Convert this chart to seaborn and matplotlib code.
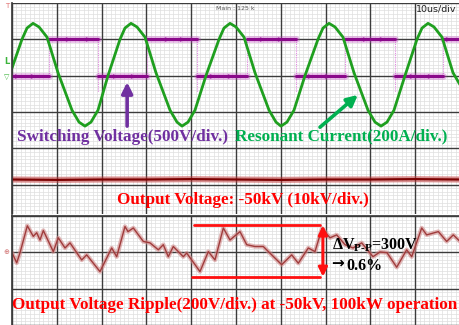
import matplotlib
matplotlib.use("Agg")
import matplotlib.pyplot as plt
import numpy as np
import pandas as pd
import seaborn as sns
from matplotlib.ticker import MultipleLocator

# time axis: microseconds (10 us/div), traces in divisions

# resonant current (200 A/div)
cur_t = [0.0, 2.23, 3.35, 4.69, 6.03, 7.81, 10.27, 13.39, 14.96, 16.29, 17.63, 19.2, 21.43,
         24.11, 25.22, 26.56, 27.9, 29.69, 32.14, 35.27, 36.83, 37.95, 39.29, 40.85, 43.3,
         46.21, 47.32, 48.66, 50.0, 51.79, 54.24, 57.37, 58.93, 60.04, 61.38, 62.95, 65.4,
         68.3, 69.42, 70.76, 72.1, 73.88, 76.34, 79.46, 81.03, 82.37, 83.71, 85.27, 87.72,
         90.4, 91.52, 92.86, 94.2, 95.98, 98.44, 100.0]
cur_v = [0.21, 1.0, 1.31, 1.44, 1.34, 1.06, 0.08, -0.95, -1.28, -1.39, -1.28, -0.95, 0.0,
         1.0, 1.31, 1.44, 1.34, 1.06, 0.08, -0.95, -1.28, -1.39, -1.28, -0.95, 0.0,
         1.0, 1.31, 1.44, 1.34, 1.06, 0.08, -0.95, -1.28, -1.39, -1.28, -0.95, 0.0,
         1.0, 1.31, 1.44, 1.34, 1.06, 0.08, -0.95, -1.28, -1.39, -1.28, -0.95, 0.0,
         1.0, 1.31, 1.44, 1.34, 1.06, 0.08, -0.25]

# switching voltage (500 V/div): edges and level of each segment
sw_edges = [0.0, 8.26, 19.2, 30.13, 41.29, 52.46, 63.39, 74.33, 85.49, 96.21, 100.0]
sw_level = [0, 1, 0, 1, 0, 1, 0, 1, 0, 1]
burst_t = [1.12, 4.69, 12.5, 16.96, 22.99, 27.0, 34.6, 37.95, 44.64, 48.66,
           55.8, 59.82, 66.52, 70.31, 78.79, 82.59, 89.29, 93.3, 97.32]
burst_v = [0, 0, 1, 1, 0, 0, 1, 1, 0, 0, 1, 1, 0, 0, 1, 1, 0, 0, 1]

# output voltage (10 kV/div)
vout_t = [0, 10, 20, 30, 40, 50, 60, 70, 80, 90, 100]
vout_v = [-2.86, -2.87, -2.86, -2.86, -2.85, -2.86, -2.87, -2.86, -2.86, -2.85, -2.86]

# output ripple (200 V/div)
rip_t = [0.0, 1.05, 1.79, 3.42, 4.75, 5.51, 6.25, 6.99, 9.22, 10.33, 11.83, 12.95, 15.56,
         16.67, 19.64, 22.25, 23.37, 25.22, 25.89, 27.08, 29.31, 30.8, 32.66, 33.77, 34.89,
         36.0, 38.24, 39.0, 41.96, 43.82, 45.31, 47.17, 48.66, 50.89, 52.39, 54.24, 56.09,
         57.97, 60.2, 62.43, 63.91, 66.14, 67.63, 69.2, 70.98, 72.48, 74.33, 76.12, 78.06,
         80.58, 82.14, 83.71, 85.87, 88.1, 89.22, 91.45, 92.56, 95.16, 97.03, 98.5, 100.0]
rip_v = [-0.01, -0.29, -0.01, 0.73, 0.44, 0.54, 0.34, 0.6, 0.02, 0.4, 0.12, 0.26, -0.21,
         -0.07, -0.53, 0.12, -0.12, 0.71, 0.57, 0.67, 0.3, 0.26, 0.07, 0.21, -0.12,
         0.16, -0.12, -0.02, -0.53, 0.02, -0.21, 0.67, 0.34, 0.57, 0.21, 0.16, 0.16,
         -0.07, -0.34, -0.07, -0.3, 0.12, 0.02, 0.66, 0.4, 0.48, 0.21, 0.12, 0.26,
         -0.12, 0.01, -0.01, -0.41, 0.07, -0.12, 0.67, 0.48, 0.57, 0.3, 0.48, 0.3]
rip_top = 0.74
rip_bot = -0.67

sns.set_theme(style="white")
plt.rcParams["font.family"] = ["Liberation Serif", "DejaVu Serif"]
plt.rcParams["mathtext.fontset"] = "custom"
plt.rcParams["mathtext.rm"] = "Liberation Serif:bold"
plt.rcParams["mathtext.it"] = "Liberation Serif:bold"
plt.rcParams["mathtext.bf"] = "Liberation Serif:bold"

fig = plt.figure(figsize=(4.6, 3.25), dpi=100)
ax1 = fig.add_axes([12 / 460, 1 - 214 / 325, 448 / 460, 211 / 325])
ax2 = fig.add_axes([12 / 460, 0, 448 / 460, 109 / 325])

GRID = "#3c3c3c"


def scope_grid(ax, ylim):
    ax.set_xlim(0, 100)
    ax.set_ylim(*ylim)
    ax.xaxis.set_minor_locator(MultipleLocator(1))
    ax.yaxis.set_minor_locator(MultipleLocator(0.1))
    ax.grid(True, which="minor", color="#dedede", lw=0.5)
    ax.grid(False, which="major")
    ax.tick_params(which="both", length=0, labelbottom=False, labelleft=False)
    ax.set_axisbelow(True)
    ax.set_facecolor("white")
    # major divisions drawn on top of the fine grid
    for x in range(0, 101, 10):
        ax.axvline(x, color=GRID, lw=1.0, zorder=0.8)
    for y in range(int(np.ceil(ylim[0])), int(np.floor(ylim[1])) + 1):
        ax.axhline(y, color=GRID, lw=1.0, zorder=0.8)
    for s in ax.spines.values():
        s.set_visible(False)
    ax.spines["left"].set_visible(True)
    ax.spines["left"].set_color(GRID)


scope_grid(ax1, (-3.81, 2.0))
scope_grid(ax2, (-2.0, 1.0))
ax2.spines["top"].set_visible(True)
ax2.spines["top"].set_color(GRID)

# switching voltage
rows = []
for i, lev in enumerate(sw_level):
    rows.append((i, sw_edges[i], lev))
    rows.append((i, sw_edges[i + 1], lev))
sw = pd.DataFrame(rows, columns=["seg", "t", "v"])
for e, nxt in zip(sw_edges[1:-1], sw_level[1:]):
    ax1.plot([e, e], [1, -0.45 if nxt == 0 else 0], color="#e28ae2", lw=0.8, ls=(0, (1, 1)))
sns.lineplot(data=sw, x="t", y="v", units="seg", estimator=None, color="#c040c0",
             lw=4.8, alpha=0.35, ax=ax1)
sns.lineplot(data=sw, x="t", y="v", units="seg", estimator=None, color="#8a0a8a",
             lw=2.2, ax=ax1)
sns.scatterplot(x=burst_t, y=burst_v, marker=">", s=14, color="#a020a0", alpha=0.8,
                linewidth=0, ax=ax1)

# resonant current
sns.lineplot(x=cur_t, y=cur_v, color="#1f9f1f", lw=2.0, ax=ax1)

# output voltage
sns.lineplot(x=vout_t, y=vout_v, color="#c83a3a", lw=4.5, alpha=0.5, ax=ax1)
sns.lineplot(x=vout_t, y=vout_v, color="#7a0000", lw=1.6, ax=ax1)

# ripple
sns.lineplot(x=rip_t, y=rip_v, color="#d08a8a", lw=3.2, alpha=0.6, ax=ax2)
sns.lineplot(x=rip_t, y=rip_v, color="#a03c3c", lw=1.0, ax=ax2)
ax2.plot([40.6, 68.75], [rip_top, rip_top], color="#ff1010", lw=2.0)
ax2.plot([40.2, 68.75], [rip_bot, rip_bot], color="#ff1010", lw=2.0)
ax2.annotate("", xy=(69.4, rip_top), xytext=(69.4, rip_bot),
             arrowprops=dict(arrowstyle="<|-|>", color="#ff1010", lw=2.2, mutation_scale=13,
                             shrinkA=0, shrinkB=0))

# arrows
ax1.annotate("", xy=(25.7, -0.18), xytext=(25.7, -1.39),
             arrowprops=dict(arrowstyle="-|>", color="#7030A0", lw=2.6, mutation_scale=16,
                             shrinkA=0, shrinkB=0))
ax1.annotate("", xy=(77.2, -0.53), xytext=(68.75, -1.42),
             arrowprops=dict(arrowstyle="-|>", color="#00B050", lw=2.6, mutation_scale=16,
                             shrinkA=0, shrinkB=0))

bold = dict(fontsize=12.3, fontweight="bold", va="center")
ax1.text(1.05, -1.69, "Switching Voltage(500V/div.)", color="#7030A0", **bold)
ax1.text(49.8, -1.68, "Resonant Current(200A/div.)", color="#00B050", **bold)
ax1.text(23.37, -3.43, "Output Voltage: -50kV (10kV/div.)", color="#ff0000", **bold)
ax2.text(0.1, -1.45, "Output Voltage Ripple(200V/div.) at -50kV, 100kW operation",
         color="#ff0000", **bold)
ax2.text(71.4, 0.07, r"ΔV$_{P\text{-}P}$=300V", color="black", fontsize=11.5,
         fontweight="bold", va="baseline")
ax2.text(71.2, -0.43, "→", color="black", fontsize=11, fontweight="bold",
         va="baseline", family="DejaVu Sans")
ax2.text(74.6, -0.48, "0.6%", color="black", fontsize=11.5, fontweight="bold",
         va="baseline")

ax1.text(49.8, 1.86, "Main : 125 k", color="#555555", fontsize=4.5, ha="center",
         va="center", family="DejaVu Sans")
ax1.text(90.2, 1.83, "10us/div", color="#222222", fontsize=6.8, va="center",
         family="DejaVu Sans")

# channel markers in the left margin
fig.text(7 / 460, 1 - 6 / 325, "T", color="#e07070", fontsize=5, ha="center", va="center",
         family="DejaVu Sans")
fig.text(7 / 460, 1 - 62 / 325, "L", color="#3cb43c", fontsize=6, ha="center", va="center",
         family="DejaVu Sans", fontweight="bold")
fig.text(7 / 460, 1 - 77 / 325, "▽", color="#3cb43c", fontsize=5, ha="center", va="center",
         family="DejaVu Sans")
fig.text(6 / 460, 1 - 252 / 325, "⊕", color="#d07070", fontsize=5, ha="center", va="center",
         family="DejaVu Sans")

fig.savefig("out.png", dpi=100)
